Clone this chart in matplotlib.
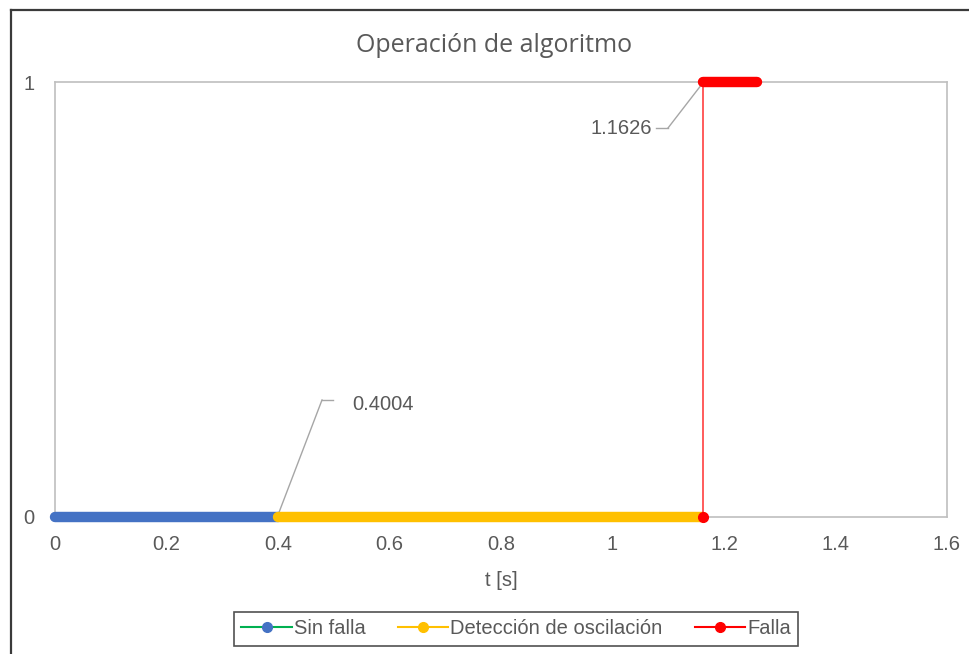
import matplotlib
matplotlib.use("Agg")
import matplotlib.pyplot as plt
from matplotlib.lines import Line2D

# Data
sin_falla_t = [0.0, 0.4004]
sin_falla_v = [0, 0]
deteccion_t = [0.4004, 1.1626]
deteccion_v = [0, 0]
falla_t = [1.1626, 1.1626, 1.26]
falla_v = [0, 1, 1]
x_ticks = [0, 0.2, 0.4, 0.6, 0.8, 1.0, 1.2, 1.4, 1.6]
x_tick_labels = ["0", "0.2", "0.4", "0.6", "0.8", "1", "1.2", "1.4", "1.6"]
y_ticks = [0, 1]
ann_det = (0.4004, 0)
ann_falla = (1.1626, 1)

plt.rcParams['font.family'] = ['Liberation Sans', 'DejaVu Sans']
txt = '#595959'
W, H = 969, 654
fig = plt.figure(figsize=(W/100, H/100), dpi=100)

# outer border (left/top visible)
fig.add_artist(Line2D([11/W, 11/W], [0, 1-10/H], color='#3a3a3a', lw=1.6, transform=fig.transFigure))
fig.add_artist(Line2D([11/W, 1], [1-10/H, 1-10/H], color='#3a3a3a', lw=1.6, transform=fig.transFigure))

L, R, T, B = 55, 947, 82, 517
ax = fig.add_axes([L/W, 1-B/H, (R-L)/W, (B-T)/H])
ax.set_xlim(0, 1.6)
ax.set_ylim(0, 1)
for s in ax.spines.values():
    s.set_color('#bfbfbf')
    s.set_linewidth(1.2)

blue = '#4472c4'
yellow = '#ffc000'
red = '#ff0000'

ax.plot(sin_falla_t, sin_falla_v, color=blue, lw=7.5, solid_capstyle='round', zorder=3, clip_on=False)
ax.plot(deteccion_t, deteccion_v, color=yellow, lw=7.5, solid_capstyle='round', zorder=4, clip_on=False)
ax.plot(falla_t[:2], falla_v[:2], color=red, lw=1.2, alpha=0.75, zorder=5, clip_on=False)
ax.plot(falla_t[1:], falla_v[1:], color=red, lw=7.5, solid_capstyle='round', zorder=5, clip_on=False)
ax.plot(falla_t[0], falla_v[0], 'o', color=red, ms=7, zorder=6, clip_on=False)

fs = 14.5
ax.set_xticks(x_ticks)
ax.set_xticklabels(x_tick_labels)
ax.set_yticks(y_ticks)
ax.set_yticklabels([str(v) for v in y_ticks])
ax.tick_params(length=0, labelsize=fs, colors=txt)
ax.tick_params(axis='x', pad=13)
ax.tick_params(axis='y', pad=15)

ax.set_xlabel('t [s]', fontsize=fs, color=txt, labelpad=12)
fig.text(494/W, 1-45/H, 'Operación de algoritmo', ha='center', va='center',
         fontsize=18, color=txt, family=['Open Sans', 'DejaVu Sans'])

ann_style = dict(fontsize=fs, color=txt, va='center')
ax.annotate('0.4004', xy=ann_det, xytext=(352/W, 1-405/H), textcoords='figure fraction',
            ha='left', **ann_style)
ax.add_artist(Line2D([322/W, 333/W], [1-400/H, 1-400/H], color='#a6a6a6', lw=1, transform=fig.transFigure))
ax.add_artist(Line2D([322/W, 278/W], [1-400/H, 1-515/H], color='#a6a6a6', lw=1, transform=fig.transFigure))

ax.annotate('1.1626', xy=ann_falla, xytext=(652/W, 1-128/H), textcoords='figure fraction',
            ha='right', **ann_style)
ax.add_artist(Line2D([656/W, 668/W], [1-128/H, 1-128/H], color='#a6a6a6', lw=1, transform=fig.transFigure))
ax.add_artist(Line2D([668/W, 702/W], [1-128/H, 1-84/H], color='#a6a6a6', lw=1, transform=fig.transFigure))

# legend
handles = [
    Line2D([0], [0], color='#00b050', lw=1.5, marker='o', markerfacecolor=blue, markeredgecolor=blue, ms=7),
    Line2D([0], [0], color=yellow, lw=1.5, marker='o', markerfacecolor=yellow, markeredgecolor=yellow, ms=7),
    Line2D([0], [0], color=red, lw=1.5, marker='o', markerfacecolor=red, markeredgecolor=red, ms=7),
]
leg = fig.legend(handles, ['Sin falla', 'Detección de oscilación', 'Falla'],
                 loc='center', bbox_to_anchor=(516/W, 1-629/H), ncol=3, fontsize=fs,
                 frameon=True, fancybox=False, handlelength=2.5, handletextpad=0.1,
                 columnspacing=1.6, borderpad=0.35, borderaxespad=0)
leg.get_frame().set_edgecolor('#262626')
leg.get_frame().set_linewidth(1.2)
for t in leg.get_texts():
    t.set_color(txt)

fig.savefig('out.png', dpi=100, facecolor='white')
